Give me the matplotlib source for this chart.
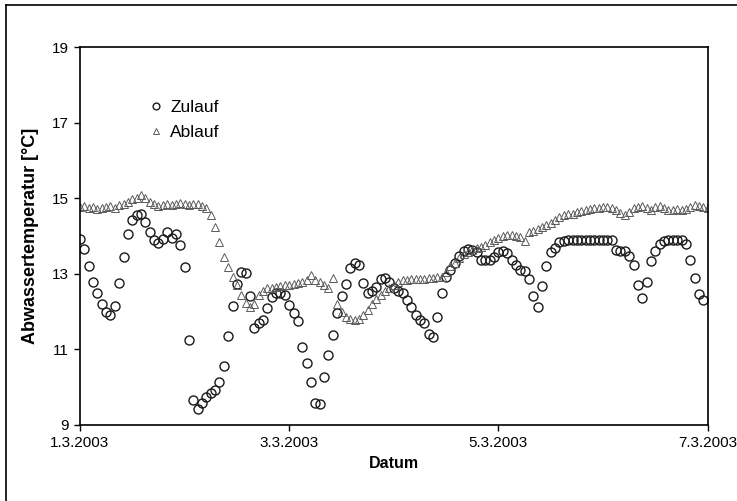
import numpy as np
import pandas as pd
import matplotlib
matplotlib.use('Agg')
import matplotlib.pyplot as plt
import matplotlib.dates as mdates
from matplotlib.lines import Line2D

plt.rcParams['font.family'] = ['Liberation Sans', 'DejaVu Sans']

# hourly values from 1.3.2003 00:00
zulauf = [
    13.93, 13.65, 13.20, 12.80, 12.50, 12.20, 12.00, 11.91, 12.15, 12.76,
    13.45, 14.06, 14.43, 14.55, 14.58, 14.39, 14.10, 13.90, 13.82, 13.93,
    14.10, 13.95, 14.06, 13.77, 13.19, 11.25, 9.66, 9.42, 9.58, 9.75,
    9.84, 9.93, 10.15, 10.56, 11.36, 12.15, 12.74, 13.06, 13.02, 12.42,
    11.57, 11.70, 11.78, 12.10, 12.40, 12.50, 12.50, 12.44, 12.18, 11.97,
    11.75, 11.07, 10.65, 10.15, 9.59, 9.56, 10.28, 10.85, 11.38, 11.97,
    12.42, 12.73, 13.15, 13.30, 13.24, 12.77, 12.49, 12.55, 12.66, 12.86,
    12.89, 12.80, 12.62, 12.55, 12.49, 12.31, 12.13, 11.91, 11.78, 11.71,
    11.41, 11.32, 11.87, 12.49, 12.93, 13.10, 13.30, 13.48, 13.62, 13.65,
    13.64, 13.59, 13.37, 13.37, 13.37, 13.45, 13.59, 13.62, 13.55, 13.37,
    13.24, 13.10, 13.09, 12.86, 12.42, 12.13, 12.68, 13.21, 13.59, 13.68,
    13.86, 13.88, 13.90, 13.90, 13.90, 13.90, 13.90, 13.90, 13.90, 13.90,
    13.90, 13.90, 13.90, 13.64, 13.62, 13.62, 13.48, 13.24, 12.71, 12.36,
    12.80, 13.35, 13.62, 13.79, 13.88, 13.90, 13.90, 13.90, 13.90, 13.79,
    13.37, 12.89, 12.47, 12.31,
]

ablauf = [
    14.78, 14.80, 14.75, 14.78, 14.72, 14.75, 14.78, 14.80, 14.76, 14.82,
    14.85, 14.90, 14.98, 15.02, 15.08, 15.00, 14.92, 14.85, 14.80, 14.82,
    14.85, 14.82, 14.85, 14.88, 14.85, 14.82, 14.86, 14.85, 14.80, 14.75,
    14.56, 14.25, 13.86, 13.46, 13.18, 12.93, 12.71, 12.44, 12.22, 12.13,
    12.20, 12.45, 12.55, 12.62, 12.64, 12.66, 12.68, 12.70, 12.71, 12.73,
    12.75, 12.78, 12.85, 12.97, 12.85, 12.78, 12.71, 12.62, 12.89, 12.20,
    12.00, 11.87, 11.82, 11.78, 11.80, 11.92, 12.05, 12.20, 12.33, 12.45,
    12.55, 12.63, 12.70, 12.78, 12.84, 12.85, 12.86, 12.87, 12.88, 12.88,
    12.90, 12.90, 12.92, 12.93, 13.05, 13.20, 13.30, 13.42, 13.52, 13.59,
    13.63, 13.68, 13.72, 13.78, 13.85, 13.90, 13.95, 14.00, 14.03, 14.02,
    14.00, 13.98, 13.88, 14.10, 14.15, 14.20, 14.25, 14.30, 14.35, 14.42,
    14.50, 14.55, 14.58, 14.60, 14.63, 14.67, 14.70, 14.72, 14.75, 14.76,
    14.78, 14.78, 14.75, 14.70, 14.62, 14.55, 14.65, 14.75, 14.78, 14.80,
    14.75, 14.70, 14.78, 14.80, 14.75, 14.70, 14.70, 14.72, 14.70, 14.72,
    14.78, 14.82, 14.80, 14.78, 14.75,
]

t_zu = pd.date_range('2003-03-01', periods=len(zulauf), freq='h')
t_ab = pd.date_range('2003-03-01', periods=len(ablauf), freq='h')

fig = plt.figure(figsize=(7.37, 5.01), dpi=100)
ax = fig.add_axes([0.1085, 0.1517, 0.8517, 0.7535])

ax.plot(t_zu, zulauf, linestyle='none', marker='o', markersize=6.5,
        markerfacecolor='none', markeredgecolor='#1a1a1a', markeredgewidth=1.0,
        label='Zulauf')
ax.plot(t_ab, ablauf, linestyle='none', marker='^', markersize=5.5,
        markerfacecolor='none', markeredgecolor='#5a5a5a', markeredgewidth=0.7,
        label='Ablauf')

ax.set_xlim(pd.Timestamp('2003-03-01'), pd.Timestamp('2003-03-07'))
ax.set_ylim(9, 19)
ax.set_yticks([9, 11, 13, 15, 17, 19])
ax.xaxis.set_major_locator(mdates.DayLocator(bymonthday=[1, 3, 5, 7]))
ax.xaxis.set_major_formatter(mdates.DateFormatter('%-d.%-m.%Y'))

ax.tick_params(direction='out', length=4, width=1, labelsize=11, pad=4)
for s in ax.spines.values():
    s.set_linewidth(1.2)

ax.set_xlabel('Datum', fontsize=11.5, fontweight='bold', labelpad=4)
ax.set_ylabel('Abwassertemperatur [°C]', fontsize=13, fontweight='bold', labelpad=9)

leg = ax.legend(loc='upper left', bbox_to_anchor=(0.087, 0.903), frameon=False,
                fontsize=12.5, markerscale=0.75, handlelength=0.7,
                handletextpad=0.45, labelspacing=0.6, borderpad=0.4)

# outer frame of the picture (only top and left edges visible)
fig.add_artist(Line2D([6 / 737, 1], [1 - 5 / 501, 1 - 5 / 501],
                      transform=fig.transFigure, color='black', lw=1.2))
fig.add_artist(Line2D([6 / 737, 6 / 737], [0, 1 - 5 / 501],
                      transform=fig.transFigure, color='black', lw=1.2))

fig.savefig('out.png', dpi=100)
plt.close(fig)
